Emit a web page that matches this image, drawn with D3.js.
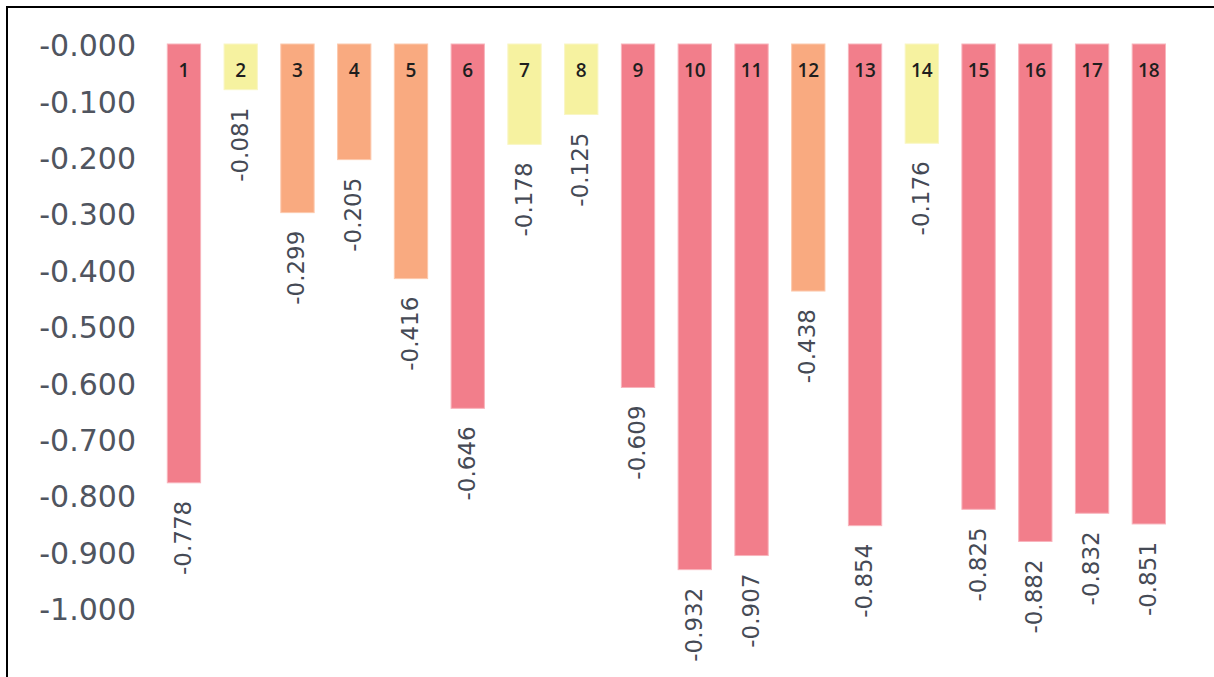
<!DOCTYPE html>
<html>
<head>
<meta charset="utf-8">
<script src="https://cdn.jsdelivr.net/npm/d3@7"></script>
<style>
  html, body { margin: 0; padding: 0; background: #fff; }
  svg { display: block; }
</style>
</head>
<body>
<svg id="chart" width="1214" height="677"></svg>
<script>
const categories = ["1","2","3","4","5","6","7","8","9","10","11","12","13","14","15","16","17","18"];
const values = [-0.778,-0.081,-0.299,-0.205,-0.416,-0.646,-0.178,-0.125,-0.609,-0.932,-0.907,-0.438,-0.854,-0.176,-0.825,-0.882,-0.832,-0.851];
const levels = ["high","low","mid","mid","mid","high","low","low","high","high","high","mid","high","low","high","high","high","high"];
const tickValues = [0,-0.1,-0.2,-0.3,-0.4,-0.5,-0.6,-0.7,-0.8,-0.9,-1.0];
const tickLabels = ["-0.000","-0.100","-0.200","-0.300","-0.400","-0.500","-0.600","-0.700","-0.800","-0.900","-1.000"];
const valueLabels = ["-0.778","-0.081","-0.299","-0.205","-0.416","-0.646","-0.178","-0.125","-0.609","-0.932","-0.907","-0.438","-0.854","-0.176","-0.825","-0.882","-0.832","-0.851"];

const fillColor = d3.scaleOrdinal().domain(["high","mid","low"]).range(["#f27e8b","#f9aa80","#f6f2a0"]);
const strokeColor = d3.scaleOrdinal().domain(["high","mid","low"]).range(["#f8b4bc","#fcc9ad","#f9f6c4"]);

const svg = d3.select("#chart");

// frame lines (top and left)
svg.append("path")
  .attr("d", "M7,677 L7,7 L1214,7")
  .attr("fill", "none")
  .attr("stroke", "#000")
  .attr("stroke-width", 2);

const x = d3.scaleBand().domain(categories).range([167.3, 1165.5]).paddingInner(0.413).paddingOuter(0);
const y = d3.scaleLinear().domain([0, -1]).range([44, 608]);

const data = categories.map((c, i) => ({ c, v: values[i], lvl: levels[i], lab: valueLabels[i] }));

// y axis
const yAxis = d3.axisLeft(y)
  .tickValues(tickValues)
  .tickFormat((d, i) => tickLabels[i])
  .tickSize(0)
  .tickPadding(0);

const gy = svg.append("g").attr("transform", "translate(136,2)").call(yAxis);
gy.select(".domain").remove();
gy.selectAll("text")
  .attr("font-family", "DejaVu Sans, sans-serif")
  .attr("font-size", 30)
  .attr("fill", "#50555f")
  .attr("text-anchor", "end");

// bars
svg.append("g").selectAll("rect")
  .data(data)
  .join("rect")
  .attr("x", d => x(d.c))
  .attr("y", y(0))
  .attr("width", x.bandwidth())
  .attr("height", d => y(d.v) - y(0))
  .attr("fill", d => fillColor(d.lvl))
  .attr("stroke", d => strokeColor(d.lvl))
  .attr("stroke-width", 1);

// category numbers inside bars
svg.append("g").selectAll("text")
  .data(data)
  .join("text")
  .attr("x", d => x(d.c) + x.bandwidth() / 2)
  .attr("y", y(0) + 26)
  .attr("text-anchor", "middle")
  .attr("dominant-baseline", "central")
  .attr("font-family", "Open Sans, sans-serif")
  .attr("font-weight", 600)
  .attr("font-size", 19)
  .attr("fill", "#1e1e1e")
  .text(d => d.c);

// value labels, rotated
svg.append("g").selectAll("text")
  .data(data)
  .join("text")
  .attr("transform", d => `translate(${x(d.c) + x.bandwidth() / 2 - 1},${y(d.v) + 18}) rotate(-90)`)
  .attr("text-anchor", "end")
  .attr("dominant-baseline", "central")
  .attr("font-family", "DejaVu Sans, sans-serif")
  .attr("font-size", 23)
  .attr("fill", "#454a55")
  .text(d => d.lab);
</script>
</body>
</html>
